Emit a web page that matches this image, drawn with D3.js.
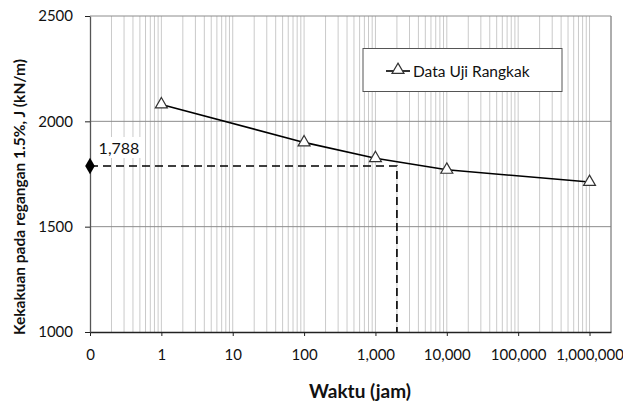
<!DOCTYPE html>
<html>
<head>
<meta charset="utf-8">
<script src="https://cdn.jsdelivr.net/npm/d3@7.9.0/dist/d3.min.js"></script>
<style>
  body { margin: 0; background: #fff; }
  svg { display: block; font-family: Lato, "Liberation Sans", sans-serif; }
</style>
</head>
<body>
<div id="chart"></div>
<script>
// creep test data (time in hours vs stiffness at 1.5% strain)
const times = [1, 100, 1000, 10000, 1000000];
const stiffness = [2080, 1900, 1825, 1770, 1712];

const xTickValues = [0.1, 1, 10, 100, 1000, 10000, 100000, 1000000];
const xTickLabels = ["0", "1", "10", "100", "1,000", "10,000", "100,000", "1,000,000"];
const yTickValues = [1000, 1500, 2000, 2500];

// design point
const designTime = [2000];
const designStiffness = [1788];
const designLabel = ["1,788"];

const seriesName = "Data Uji Rangkak";
const xTitle = "Waktu (jam)";
const yTitle = "Kekakuan pada regangan 1.5%, J (kN/m)";

const W = 623, H = 401;
const plotL = 90, plotR = 611, plotT = 16, plotB = 332;

const svg = d3.select("#chart").append("svg")
    .attr("width", W)
    .attr("height", H);

const x = d3.scaleLog().domain([0.1, 2000000]).range([plotL, plotR]);
const y = d3.scaleLinear().domain([1000, 2500]).range([plotB, plotT]);

// minor vertical grid (1..9 per decade)
let minor = [];
for (let e = -1; e <= 6; e++) {
    for (let k = 1; k <= 9; k++) {
        const v = k * Math.pow(10, e);
        if (v > 0.1 && v <= 2000000) minor.push(v);
    }
}
svg.append("g")
    .selectAll("line")
    .data(minor)
    .enter()
    .append("line")
    .attr("x1", d => x(d)).attr("x2", d => x(d))
    .attr("y1", plotT).attr("y2", plotB)
    .attr("stroke", "#cacaca")
    .attr("stroke-width", 1);

// horizontal grid
svg.append("g")
    .selectAll("line")
    .data(yTickValues.slice(1))
    .enter()
    .append("line")
    .attr("x1", plotL).attr("x2", plotR)
    .attr("y1", d => y(d)).attr("y2", d => y(d))
    .attr("stroke", "#8c8c8c")
    .attr("stroke-width", 1);

// right border
svg.append("line")
    .attr("x1", plotR).attr("x2", plotR)
    .attr("y1", plotT).attr("y2", plotB)
    .attr("stroke", "#777");

// axes
const xAxis = svg.append("g")
    .attr("transform", "translate(0," + plotB + ")")
    .call(d3.axisBottom(x)
        .tickValues(xTickValues)
        .tickFormat((d, i) => xTickLabels[i])
        .tickSizeInner(4)
        .tickSizeOuter(0)
        .tickPadding(13));
xAxis.select(".domain").attr("stroke", "#222").attr("stroke-width", 1.3);
xAxis.selectAll(".tick line").attr("stroke", "#222");
xAxis.selectAll("text").attr("font-size", "15px").attr("fill", "#111").attr("font-family", "Lato");

const yAxis = svg.append("g")
    .attr("transform", "translate(" + plotL + ",0)")
    .call(d3.axisLeft(y)
        .tickValues(yTickValues)
        .tickSizeInner(5)
        .tickSizeOuter(0)
        .tickPadding(12)
        .tickFormat(d3.format("d")));
yAxis.select(".domain").attr("stroke", "#555").attr("stroke-width", 1.3);
yAxis.selectAll(".tick line").attr("stroke", "#222");
yAxis.selectAll("text").attr("font-size", "15px").attr("fill", "#111").attr("font-family", "Lato");

// dashed guide lines to the design point
svg.append("path")
    .attr("d", d3.line()([
        [x(0.1), y(designStiffness[0])],
        [x(designTime[0]), y(designStiffness[0])],
        [x(designTime[0]), y(1000)]
    ]))
    .attr("fill", "none")
    .attr("stroke", "#000")
    .attr("stroke-width", 1.6)
    .attr("stroke-dasharray", "8,5");

svg.append("path")
    .attr("d", d3.symbol(d3.symbolDiamond, 80)())
    .attr("transform", "translate(" + x(0.1) + "," + y(designStiffness[0]) + ")")
    .attr("fill", "#000");

// label with white backing
const lblX = x(0.1) + 29, lblY = y(designStiffness[0]) - 18;
svg.append("rect")
    .attr("x", lblX - 24).attr("y", lblY - 11)
    .attr("width", 50).attr("height", 21)
    .attr("fill", "#fff");
svg.append("text")
    .attr("x", lblX).attr("y", lblY + 6)
    .attr("text-anchor", "middle")
    .attr("font-size", "16px")
    .attr("fill", "#111")
    .text(designLabel[0]);

// data line
const pts = times.map((t, i) => [x(t), y(stiffness[i])]);
svg.append("path")
    .attr("d", d3.line()(pts))
    .attr("fill", "none")
    .attr("stroke", "#000")
    .attr("stroke-width", 1.6);

const tri = d3.symbol(d3.symbolTriangle, 62);
svg.selectAll(".marker")
    .data(pts)
    .enter()
    .append("path")
    .attr("class", "marker")
    .attr("d", tri)
    .attr("transform", d => "translate(" + d[0] + "," + d[1] + ")")
    .attr("fill", "#fff")
    .attr("stroke", "#333")
    .attr("stroke-width", 1.2);

// legend
const lg = svg.append("g");
lg.append("rect")
    .attr("x", 363).attr("y", 48.5)
    .attr("width", 199).attr("height", 43)
    .attr("fill", "#fff")
    .attr("stroke", "#555")
    .attr("stroke-width", 1);
lg.append("line")
    .attr("x1", 386).attr("x2", 410)
    .attr("y1", 71).attr("y2", 71)
    .attr("stroke", "#000").attr("stroke-width", 1.6);
lg.append("path")
    .attr("d", tri)
    .attr("transform", "translate(398,70)")
    .attr("fill", "#fff").attr("stroke", "#333").attr("stroke-width", 1.2);
lg.append("text")
    .attr("x", 413).attr("y", 76.5)
    .attr("font-size", "15.5px")
    .attr("fill", "#111")
    .text(seriesName);

// titles
svg.append("text")
    .attr("x", 360).attr("y", 398)
    .attr("text-anchor", "middle")
    .attr("font-size", "19px")
    .attr("font-weight", "bold")
    .attr("fill", "#111")
    .text(xTitle);

svg.append("text")
    .attr("transform", "translate(25,197) rotate(-90)")
    .attr("text-anchor", "middle")
    .attr("font-size", "15.5px")
    .attr("font-weight", "bold")
    .attr("fill", "#111")
    .text(yTitle);
</script>
</body>
</html>
